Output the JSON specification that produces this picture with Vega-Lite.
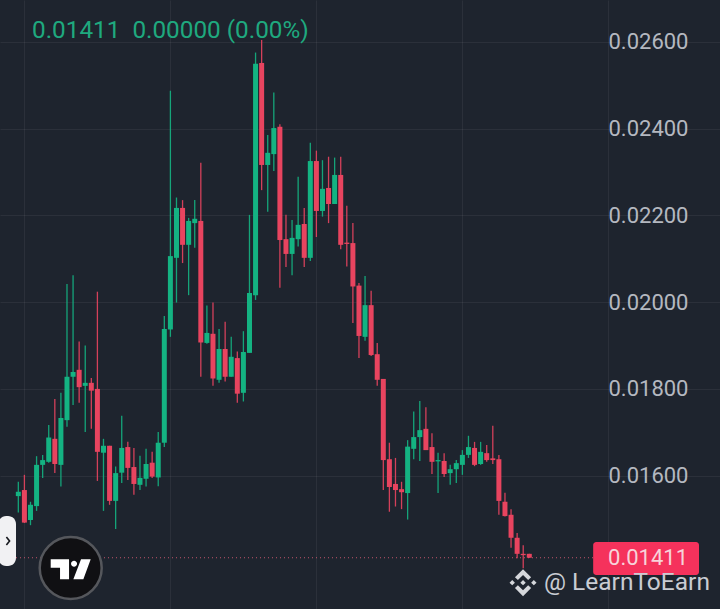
{"$schema":"https://vega.github.io/schema/vega-lite/v6.json","width":720,"height":609,"padding":0,"autosize":{"type":"none"},"background":"#1e242e","config":{"view":{"stroke":null},"font":"Roboto"},"datasets":{"candles":[
{"t":0,"open":0.01553,"close":0.01563,"high":0.01586,"low":0.01515,"dir":"up"},
{"t":1,"open":0.01567,"close":0.01492,"high":0.01602,"low":0.01491,"dir":"down"},
{"t":2,"open":0.01498,"close":0.01533,"high":0.0154,"low":0.01486,"dir":"up"},
{"t":3,"open":0.0153,"close":0.01625,"high":0.01645,"low":0.01519,"dir":"up"},
{"t":4,"open":0.01625,"close":0.01636,"high":0.01648,"low":0.01595,"dir":"up"},
{"t":5,"open":0.01632,"close":0.01688,"high":0.01717,"low":0.0163,"dir":"up"},
{"t":6,"open":0.01685,"close":0.01627,"high":0.01777,"low":0.01606,"dir":"down"},
{"t":7,"open":0.01625,"close":0.01733,"high":0.01791,"low":0.01575,"dir":"up"},
{"t":8,"open":0.01728,"close":0.01828,"high":0.02042,"low":0.01713,"dir":"up"},
{"t":9,"open":0.01828,"close":0.01839,"high":0.02062,"low":0.01763,"dir":"up"},
{"t":10,"open":0.01844,"close":0.01804,"high":0.01909,"low":0.01768,"dir":"down"},
{"t":11,"open":0.01807,"close":0.01814,"high":0.019,"low":0.01701,"dir":"up"},
{"t":12,"open":0.01814,"close":0.01796,"high":0.01825,"low":0.01708,"dir":"down"},
{"t":13,"open":0.018,"close":0.01655,"high":0.02024,"low":0.01588,"dir":"down"},
{"t":14,"open":0.01653,"close":0.01669,"high":0.01685,"low":0.01519,"dir":"up"},
{"t":15,"open":0.01669,"close":0.01542,"high":0.01669,"low":0.01533,"dir":"down"},
{"t":16,"open":0.01542,"close":0.01606,"high":0.01621,"low":0.01477,"dir":"up"},
{"t":17,"open":0.01607,"close":0.01664,"high":0.01738,"low":0.01583,"dir":"up"},
{"t":18,"open":0.01666,"close":0.01618,"high":0.01678,"low":0.0159,"dir":"down"},
{"t":19,"open":0.0162,"close":0.01581,"high":0.01664,"low":0.01556,"dir":"down"},
{"t":20,"open":0.01579,"close":0.01595,"high":0.01646,"low":0.01567,"dir":"up"},
{"t":21,"open":0.01593,"close":0.01627,"high":0.01662,"low":0.01575,"dir":"up"},
{"t":22,"open":0.0163,"close":0.01598,"high":0.01655,"low":0.01595,"dir":"down"},
{"t":23,"open":0.01596,"close":0.01676,"high":0.01701,"low":0.01576,"dir":"up"},
{"t":24,"open":0.01676,"close":0.01938,"high":0.01968,"low":0.01666,"dir":"up"},
{"t":25,"open":0.01937,"close":0.02106,"high":0.02487,"low":0.0192,"dir":"up"},
{"t":26,"open":0.02102,"close":0.02217,"high":0.02241,"low":0.01999,"dir":"up"},
{"t":27,"open":0.02217,"close":0.02132,"high":0.02235,"low":0.0209,"dir":"down"},
{"t":28,"open":0.02132,"close":0.02187,"high":0.02194,"low":0.02016,"dir":"up"},
{"t":29,"open":0.02182,"close":0.02192,"high":0.02235,"low":0.02125,"dir":"up"},
{"t":30,"open":0.02187,"close":0.01907,"high":0.02321,"low":0.01828,"dir":"down"},
{"t":31,"open":0.01906,"close":0.01929,"high":0.01992,"low":0.01904,"dir":"up"},
{"t":32,"open":0.01927,"close":0.01824,"high":0.01999,"low":0.01807,"dir":"down"},
{"t":33,"open":0.01821,"close":0.01892,"high":0.01938,"low":0.01814,"dir":"up"},
{"t":34,"open":0.01892,"close":0.01828,"high":0.01955,"low":0.01817,"dir":"down"},
{"t":35,"open":0.01828,"close":0.01874,"high":0.0192,"low":0.01828,"dir":"up"},
{"t":36,"open":0.01871,"close":0.01789,"high":0.01886,"low":0.01768,"dir":"down"},
{"t":37,"open":0.01791,"close":0.01885,"high":0.01933,"low":0.01771,"dir":"up"},
{"t":38,"open":0.01883,"close":0.02021,"high":0.02201,"low":0.01883,"dir":"up"},
{"t":39,"open":0.02016,"close":0.02549,"high":0.02575,"low":0.02005,"dir":"up"},
{"t":40,"open":0.02551,"close":0.02316,"high":0.02604,"low":0.02258,"dir":"down"},
{"t":41,"open":0.02316,"close":0.02344,"high":0.02385,"low":0.02208,"dir":"up"},
{"t":42,"open":0.02341,"close":0.02401,"high":0.02483,"low":0.02302,"dir":"up"},
{"t":43,"open":0.02404,"close":0.02143,"high":0.0241,"low":0.02033,"dir":"down"},
{"t":44,"open":0.02145,"close":0.02111,"high":0.02201,"low":0.02081,"dir":"down"},
{"t":45,"open":0.02111,"close":0.02148,"high":0.02189,"low":0.02062,"dir":"up"},
{"t":46,"open":0.02145,"close":0.02178,"high":0.02289,"low":0.02128,"dir":"up"},
{"t":47,"open":0.0218,"close":0.02102,"high":0.02217,"low":0.02081,"dir":"down"},
{"t":48,"open":0.02102,"close":0.02325,"high":0.02367,"low":0.02095,"dir":"up"},
{"t":49,"open":0.02325,"close":0.0221,"high":0.02349,"low":0.0215,"dir":"down"},
{"t":50,"open":0.0221,"close":0.02261,"high":0.02327,"low":0.02197,"dir":"up"},
{"t":51,"open":0.02263,"close":0.02226,"high":0.02335,"low":0.02182,"dir":"down"},
{"t":52,"open":0.02226,"close":0.02293,"high":0.02333,"low":0.02226,"dir":"up"},
{"t":53,"open":0.02293,"close":0.02132,"high":0.02335,"low":0.02122,"dir":"down"},
{"t":54,"open":0.02137,"close":0.02134,"high":0.02222,"low":0.02082,"dir":"down"},
{"t":55,"open":0.02136,"close":0.02036,"high":0.02182,"low":0.01952,"dir":"down"},
{"t":56,"open":0.02038,"close":0.01922,"high":0.02044,"low":0.01871,"dir":"down"},
{"t":57,"open":0.0192,"close":0.01993,"high":0.0206,"low":0.01911,"dir":"up"},
{"t":58,"open":0.01993,"close":0.01878,"high":0.02026,"low":0.01876,"dir":"down"},
{"t":59,"open":0.0188,"close":0.01821,"high":0.01906,"low":0.01807,"dir":"down"},
{"t":60,"open":0.01823,"close":0.01636,"high":0.01823,"low":0.01567,"dir":"down"},
{"t":61,"open":0.01638,"close":0.01574,"high":0.01676,"low":0.01517,"dir":"down"},
{"t":62,"open":0.01581,"close":0.01567,"high":0.01641,"low":0.01529,"dir":"down"},
{"t":63,"open":0.01569,"close":0.01562,"high":0.01586,"low":0.01523,"dir":"down"},
{"t":64,"open":0.0156,"close":0.01667,"high":0.01682,"low":0.01499,"dir":"up"},
{"t":65,"open":0.01662,"close":0.01689,"high":0.01748,"low":0.01638,"dir":"up"},
{"t":66,"open":0.01689,"close":0.01705,"high":0.01772,"low":0.01634,"dir":"up"},
{"t":67,"open":0.01708,"close":0.01659,"high":0.01758,"low":0.01659,"dir":"down"},
{"t":68,"open":0.01666,"close":0.01632,"high":0.01698,"low":0.01604,"dir":"down"},
{"t":69,"open":0.01633,"close":0.01636,"high":0.01653,"low":0.0156,"dir":"up"},
{"t":70,"open":0.01634,"close":0.01604,"high":0.01652,"low":0.01597,"dir":"down"},
{"t":71,"open":0.01606,"close":0.01615,"high":0.01625,"low":0.01579,"dir":"up"},
{"t":72,"open":0.01615,"close":0.01629,"high":0.01636,"low":0.01583,"dir":"up"},
{"t":73,"open":0.01625,"close":0.01648,"high":0.01659,"low":0.01602,"dir":"up"},
{"t":74,"open":0.01648,"close":0.01666,"high":0.01692,"low":0.01641,"dir":"up"},
{"t":75,"open":0.01664,"close":0.01625,"high":0.01678,"low":0.01622,"dir":"down"},
{"t":76,"open":0.01627,"close":0.01655,"high":0.01678,"low":0.01625,"dir":"up"},
{"t":77,"open":0.01652,"close":0.01636,"high":0.01671,"low":0.01632,"dir":"down"},
{"t":78,"open":0.0164,"close":0.01636,"high":0.01715,"low":0.01627,"dir":"down"},
{"t":79,"open":0.01638,"close":0.01542,"high":0.01648,"low":0.0151,"dir":"down"},
{"t":80,"open":0.0154,"close":0.01507,"high":0.01561,"low":0.01506,"dir":"down"},
{"t":81,"open":0.0151,"close":0.01457,"high":0.01523,"low":0.01434,"dir":"down"},
{"t":82,"open":0.01457,"close":0.0142,"high":0.01468,"low":0.0141,"dir":"down"},
{"t":83,"open":0.0142,"close":0.01417,"high":0.0144,"low":0.01387,"dir":"down"},
{"t":84,"open":0.0142,"close":0.01411,"high":0.0142,"low":0.01411,"dir":"down"}
]},
"encoding":{
"x":{"field":"t","type":"quantitative","scale":{"domain":[-3.012,115.35],"nice":false,"zero":false},"axis":{"values":[1,25,49,73,97],"grid":true,"gridColor":"#ffffff","gridOpacity":0.06,"labels":false,"ticks":false,"domain":false,"title":null}},
"y":{"field":"price","type":"quantitative","scale":{"domain":[0.012929,0.0269608],"nice":false,"zero":false},"axis":{"orient":"right","values":[0.016,0.018,0.02,0.022,0.024,0.026],"format":".5f","grid":true,"gridColor":"#ffffff","gridOpacity":0.06,"ticks":false,"domain":false,"title":null,"labelPadding":-112,"labelAlign":"left","labelFontSize":22,"labelColor":"#b4b8c0","labelFont":"Roboto"}}
},
"layer":[
{"data":{"name":"candles"},"mark":{"type":"rule","strokeWidth":1.3,"opacity":0.9},"encoding":{"y":{"field":"high","type":"quantitative","scale":{"domain":[0.012929,0.0269608],"nice":false,"zero":false},"axis":{"orient":"right","values":[0.016,0.018,0.02,0.022,0.024,0.026],"format":".5f","grid":true,"gridColor":"#ffffff","gridOpacity":0.06,"ticks":false,"domain":false,"title":null,"labelPadding":-112,"labelAlign":"left","labelFontSize":22,"labelColor":"#b4b8c0","labelFont":"Roboto"}},"y2":{"field":"low"},"color":{"field":"dir","type":"nominal","scale":{"domain":["up","down"],"range":["#14b382","#e8445f"]},"legend":null}}},
{"data":{"name":"candles"},"mark":{"type":"rule","strokeWidth":5},"encoding":{"y":{"field":"open","type":"quantitative","scale":{"domain":[0.012929,0.0269608],"nice":false,"zero":false},"axis":{"orient":"right","values":[0.016,0.018,0.02,0.022,0.024,0.026],"format":".5f","grid":true,"gridColor":"#ffffff","gridOpacity":0.06,"ticks":false,"domain":false,"title":null,"labelPadding":-112,"labelAlign":"left","labelFontSize":22,"labelColor":"#b4b8c0","labelFont":"Roboto"}},"y2":{"field":"close"},"color":{"field":"dir","type":"nominal","scale":{"domain":["up","down"],"range":["#14b382","#e8445f"]},"legend":null}}},
{"data":{"values":[{"t":-3.012,"t2":94.5,"price":0.01411}]},"mark":{"type":"rule","stroke":"#e8607c","strokeWidth":1,"strokeDash":[1,3],"opacity":0.8},"encoding":{"x2":{"field":"t2"}}},
{"data":{"values":[{"t":94.5,"t2":111.9,"price":0.014473,"price2":0.013713}]},"mark":{"type":"rect","fill":"#f5325c","cornerRadius":3},"encoding":{"x2":{"field":"t2"},"y2":{"field":"price2"}}},
{"data":{"values":[{"t":96.94,"price":0.01411,"label":"0.01411"}]},"mark":{"type":"text","align":"left","baseline":"middle","fontSize":22,"fill":"#f7d3da","font":"Roboto"},"encoding":{"text":{"field":"label"}}},
{"data":{"values":[{"t":2.25,"price":0.026246,"label":"0.01411\u00a0\u00a00.00000 (0.00%)"}]},"mark":{"type":"text","align":"left","baseline":"middle","fontSize":24.3,"fill":"#1fa97f","font":"Roboto"},"encoding":{"text":{"field":"label"}}},
{"data":{"values":[{"t":-3.3,"t2":-0.38,"price":0.015072,"price2":0.01392}]},"mark":{"type":"rect","fill":"#f1f1f3","cornerRadius":8},"encoding":{"x2":{"field":"t2"},"y2":{"field":"price2"}}},
{"data":{"values":[{"t":-1.7,"price":0.014496}]},"mark":{"type":"point","filled":false,"size":64,"stroke":"#16181d","strokeWidth":1.6,"opacity":1,"shape":"M-0.4,-1L0.4,0L-0.4,1"}},
{"data":{"values":[{"t":8.61,"price":0.013874}]},"mark":{"type":"point","shape":"circle","filled":true,"size":3844,"fill":"#101013","stroke":"#55575c","strokeWidth":2.5,"opacity":1}},
{"data":{"values":[{"t":8.61,"price":0.013844}]},"mark":{"type":"point","filled":true,"size":1600,"fill":"#ffffff","strokeWidth":0,"opacity":1,"shape":"M-1,-0.5L-0.083,-0.5L-0.083,0.5L-0.533,0.5L-0.533,-0.083L-1,-0.083ZM0.017,-0.283A0.15,0.15 0 1 0 0.317,-0.283A0.15,0.15 0 1 0 0.017,-0.283ZM0.517,-0.5L1,-0.5L0.633,0.5L0.133,0.5Z"}},
{"data":{"values":[{"t":82.97,"price":0.013536}]},"mark":{"type":"point","filled":true,"size":729,"fill":"#d5d7db","strokeWidth":0,"opacity":1,"shape":"M0,-0.2L0.2,0L0,0.2L-0.2,0ZM-1,0L-0.8,-0.2L-0.6,0L-0.8,0.2ZM1,0L0.8,-0.2L0.6,0L0.8,0.2ZM0,-1L0.6,-0.4L0.38,-0.2L0,-0.57L-0.38,-0.2L-0.6,-0.4ZM0,1L0.6,0.4L0.38,0.2L0,0.57L-0.38,0.2L-0.6,0.4Z"}},
{"data":{"values":[{"t":86.42,"price":0.013528,"label":"@ LearnToEarn"}]},"mark":{"type":"text","align":"left","baseline":"middle","fontSize":24.5,"fill":"#c9ccd3","font":"Roboto"},"encoding":{"text":{"field":"label"}}}
]}
